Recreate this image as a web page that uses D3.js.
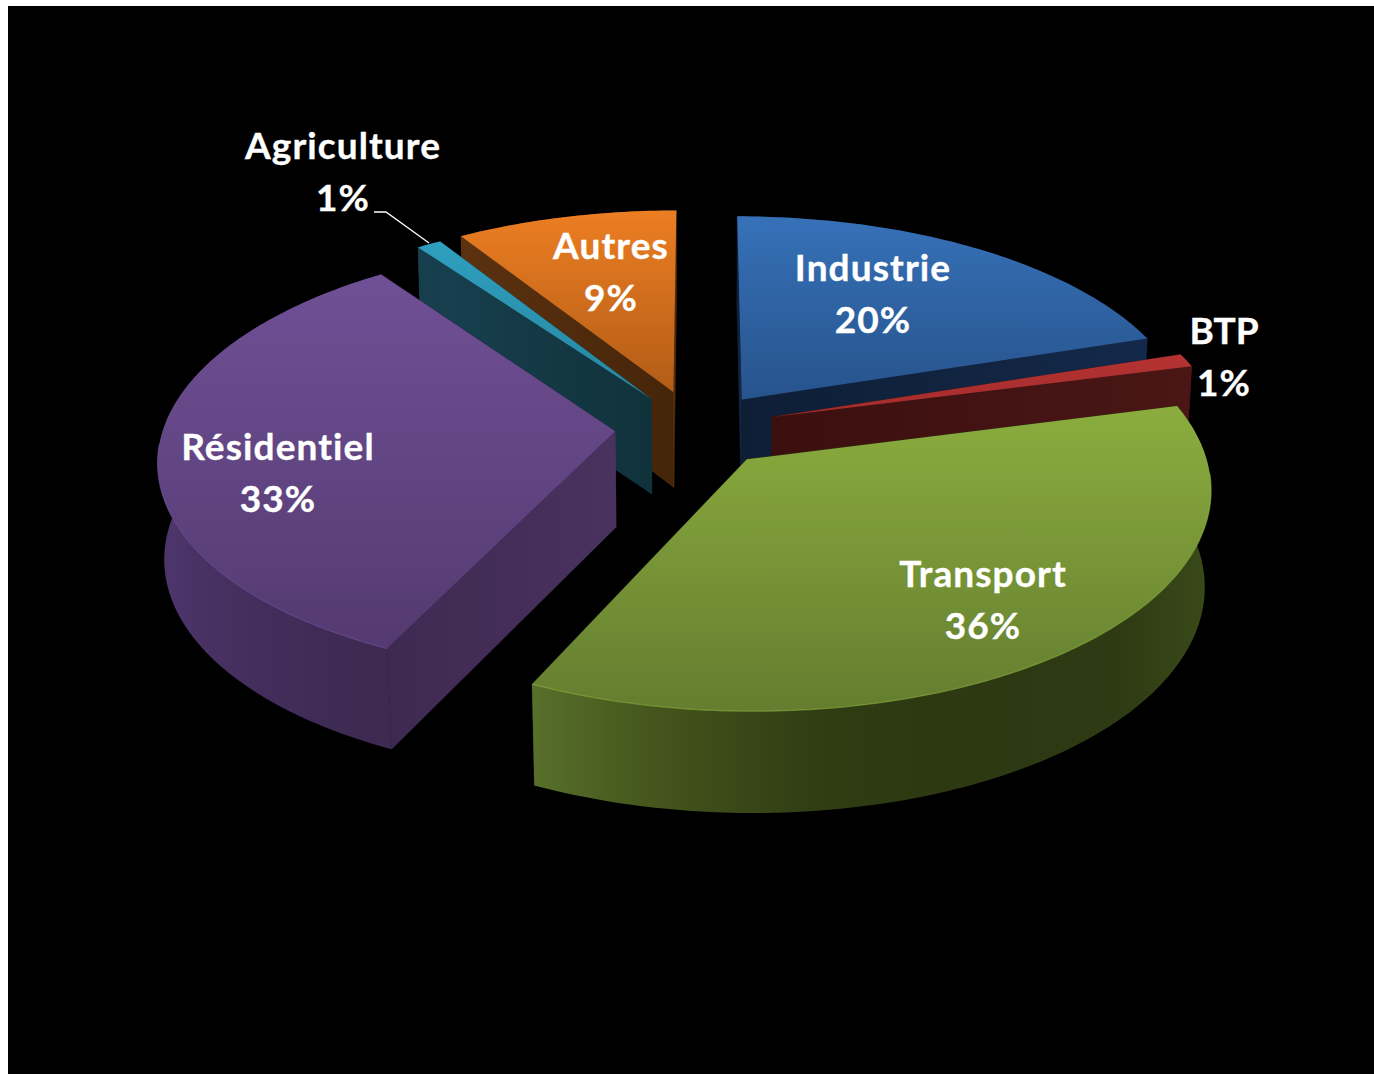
<!DOCTYPE html>
<html lang="fr">
<head>
<meta charset="utf-8">
<title>Consommation par secteur</title>
<script src="https://cdnjs.cloudflare.com/ajax/libs/d3/7.8.5/d3.min.js"></script>
<style>
  html, body { margin: 0; padding: 0; background: #fff; }
  svg { display: block; }
  .label { font-family: Lato, "Open Sans", sans-serif; font-weight: 700; font-size: 37px; letter-spacing: 1.1px; font-variant-ligatures: none; fill: #fff; stroke: #fff; stroke-width: 0.35px; text-anchor: middle; }
</style>
</head>
<body>
<svg id="chart" width="1374" height="1074"></svg>
<script>
// Sector shares, clockwise from twelve o'clock
const sectors = ["Industrie", "BTP", "Transport", "Résidentiel", "Agriculture", "Autres"];
const shares = [20, 1, 36, 33, 1, 9];
// How far each slice is pulled away from the pie's centre, in radii
const pullAcross = [0.094, 0.161, 0.102, -0.188, -0.11, -0.06];
const pullDepth = [-0.145, -0.062, 0.135, 0.006, -0.15, -0.181];
// Back-to-front painting order
const paintOrder = ["Autres", "Agriculture", "Industrie", "BTP", "Résidentiel", "Transport"];

const topColors = {
  "Industrie": ["#3671b8", "#27538c"],
  "BTP": ["#b53232", "#a52c2c"],
  "Transport": ["#8bad3e", "#647d30"],
  "Résidentiel": ["#705096", "#543a70"],
  "Agriculture": ["#2f9fbf", "#27869f"],
  "Autres": ["#ec7e22", "#b25c17"]
};
const wallColors = {
  "Industrie": ["#12284a", "#0e1f38"],
  "BTP": ["#3c0f0f", "#4a1616"],
  "Transport": ["#58702b", "#485a1f", "#3b4a18", "#303c12", "#2d3911", "#2d3912", "#2e3a13", "#3a4a19"],
  "Résidentiel": ["#4d366c", "#442f5e", "#3f2c56", "#3d2a52"],
  "Agriculture": ["#173f4e", "#10323b"],
  "Autres": ["#5c3210", "#45250a"]
};
const cutColors = {
  "Industrie": ["#0d1e35", "#14294a"],
  "BTP": ["#3c0f0f", "#4a1616"],
  "Transport": ["#2f3b13", "#2f3b13"],
  "Résidentiel": ["#3d2a52", "#4a325f"],
  "Agriculture": ["#173f4e", "#10323b"],
  "Autres": ["#5c3210", "#45250a"]
};

const labels = [
  { name: "Agriculture", pct: "1%", x: 343, y: 159 },
  { name: "Autres", pct: "9%", x: 611, y: 259 },
  { name: "Industrie", pct: "20%", x: 873, y: 281 },
  { name: "BTP", pct: "1%", x: 1224, y: 344 },
  { name: "Transport", pct: "36%", x: 983, y: 587 },
  { name: "Résidentiel", pct: "33%", x: 278, y: 460 }
];

// Camera: a unit disc seen from above with mild perspective
const centre = { x: 700, y: 430 };
const radiusX = 452, radiusY = 213, thickness = 96;
const foreshorten = 0.1236, sink = 0.012, depthGrowth = 0.05;

function project(u, v, z) {
  const w = 1 - foreshorten * v + sink * z;
  return [
    centre.x + radiusX * u / w,
    centre.y + radiusY * v / (1 - foreshorten * v) + thickness * z / (1 - depthGrowth * v)
  ];
}

const svg = d3.select("#chart");
const defs = svg.append("defs");
svg.append("rect").attr("x", 8).attr("y", 6).attr("width", 1366).attr("height", 1068).attr("fill", "#000");

const pie = d3.pie().sort(null).value(d => d)(shares);
const line = d3.line();

function gradient(id, colors, horizontal) {
  const g = defs.append("linearGradient").attr("id", id)
    .attr("x1", 0).attr("y1", 0).attr("x2", horizontal ? 1 : 0).attr("y2", horizontal ? 0 : 1);
  colors.forEach((c, i) => g.append("stop").attr("offset", i / (colors.length - 1)).attr("stop-color", c));
  return `url(#${id})`;
}

paintOrder.forEach(name => {
  const i = sectors.indexOf(name);
  const { startAngle: a0, endAngle: a1 } = pie[i];
  const mid = (a0 + a1) / 2;
  const ox = pullAcross[i], oy = pullDepth[i];
  const steps = Math.max(4, Math.round((a1 - a0) * 60));
  const angles = d3.range(steps + 1).map(k => a0 + (a1 - a0) * k / steps);
  const rim = z => angles.map(a => project(ox + Math.sin(a), oy - Math.cos(a), z));
  const apex = z => project(ox, oy, z);
  const rimTop = rim(0), rimBottom = rim(1);
  const g = svg.append("g").attr("class", "slice");
  const id = "s" + i;

  const drawOuter = () => g.append("path").attr("fill", gradient(id + "w", wallColors[name], true))
    .attr("d", line(rimTop.concat(rimBottom.slice().reverse())) + "Z");

  // a slice on the far half hides its outer wall behind the radial ones
  const farHalf = Math.cos(mid) > 0;
  if (farHalf) drawOuter();

  const cutFill = gradient(id + "c", cutColors[name], true);
  [[rimTop[0], rimBottom[0]], [rimTop[steps], rimBottom[steps]]].forEach(([t, b]) => {
    g.append("path").attr("fill", cutFill).attr("stroke", cutFill).attr("stroke-width", 0.5)
      .attr("d", line([apex(0), t, b, apex(1)]) + "Z");
  });

  if (!farHalf) drawOuter();

  // top face
  g.append("path").attr("fill", gradient(id + "t", topColors[name], false))
    .attr("d", line([apex(0)].concat(rimTop)) + "Z");

  // soft bevel highlight along the front of the rim
  const front = rimTop.filter((p, k) => -Math.cos(angles[k]) > 0.05);
  if (front.length > 1) {
    g.append("path").attr("fill", "none").attr("stroke", topColors[name][0])
      .attr("stroke-width", 1.3).attr("stroke-opacity", 0.65).attr("d", line(front));
  }
});

// Leader line from the small Agriculture slice to its label
svg.append("path").attr("fill", "none").attr("stroke", "#fff").attr("stroke-width", 1.3)
  .attr("d", "M374,212H386L429,243");

labels.forEach(l => {
  const t = svg.append("text").attr("class", "label");
  const title = t.append("tspan").attr("x", l.x).attr("y", l.y).text(l.name);
  if (l.name.length < 4) title.style("letter-spacing", "0px");
  t.append("tspan").attr("x", l.x).attr("y", l.y + 52).text(l.pct);
});
</script>
</body>
</html>
